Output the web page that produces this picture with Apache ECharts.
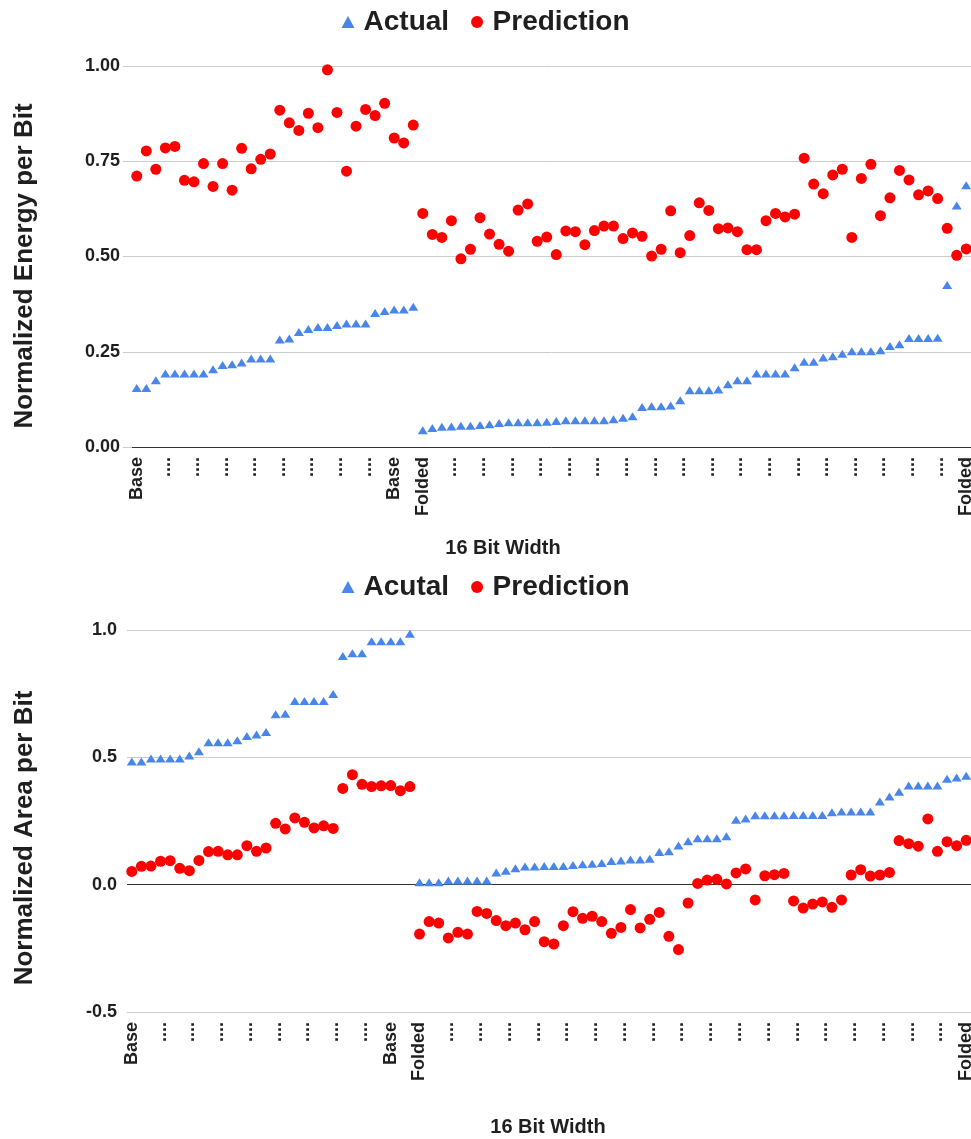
<!DOCTYPE html>
<html>
<head>
<meta charset="utf-8">
<script src="https://cdn.jsdelivr.net/npm/echarts@6/dist/echarts.min.js"></script>
<style>
html,body{margin:0;padding:0;background:#fff;}
#chart{width:971px;height:1139px;}
</style>
</head>
<body>
<div id="chart"></div>
<script>
// ---- categories (tick labels) ----
const baseCats = [
  'Base','....','....','....','....','....','....','....','....','....',
  '....','....','....','....','....','....','....','....','....','....',
  '....','....','....','....','....','....','....','Base','....','....'
];
const foldedCats = [
  'Folded','....','....','....','....','....','....','....','....','....',
  '....','....','....','....','....','....','....','....','....','....',
  '....','....','....','....','....','....','....','....','....','....',
  '....','....','....','....','....','....','....','....','....','....',
  '....','....','....','....','....','....','....','....','....','....',
  '....','....','....','....','....','....','....','Folded'
];
const categories = baseCats.concat(foldedCats);

// ---- top chart: energy ----
const energyActual = [
  0.155,0.155,0.175,0.193,0.193,0.193,0.193,0.193,0.204,0.215,
  0.217,0.222,0.232,0.232,0.232,0.282,0.285,0.302,0.310,0.315,
  0.315,0.320,0.324,0.324,0.324,0.352,0.357,0.361,0.361,0.368,
  0.044,0.050,0.053,0.054,0.056,0.056,0.058,0.060,0.063,0.065,
  0.065,0.065,0.065,0.066,0.068,0.070,0.070,0.070,0.070,0.070,
  0.073,0.077,0.081,0.105,0.107,0.107,0.109,0.123,0.149,0.149,
  0.149,0.151,0.165,0.175,0.175,0.193,0.193,0.193,0.193,0.209,
  0.224,0.224,0.235,0.238,0.245,0.251,0.251,0.251,0.254,0.265,
  0.270,0.286,0.286,0.286,0.287,0.425,0.634,0.687
];
const energyPrediction = [
  0.711,0.777,0.729,0.785,0.789,0.700,0.696,0.744,0.684,0.744,
  0.674,0.784,0.730,0.755,0.769,0.884,0.851,0.831,0.876,0.838,
  0.990,0.878,0.724,0.842,0.886,0.870,0.902,0.811,0.798,0.845,
  0.613,0.558,0.550,0.594,0.494,0.519,0.602,0.559,0.532,0.514,
  0.622,0.638,0.540,0.551,0.505,0.567,0.565,0.531,0.568,0.580,
  0.580,0.547,0.562,0.553,0.501,0.519,0.620,0.510,0.555,0.641,
  0.621,0.573,0.575,0.565,0.518,0.518,0.594,0.613,0.604,0.611,
  0.758,0.690,0.665,0.714,0.729,0.550,0.705,0.742,0.607,0.654,
  0.726,0.701,0.662,0.672,0.652,0.574,0.503,0.520
];

// ---- bottom chart: area ----
const areaActual = [
  0.484,0.484,0.495,0.495,0.495,0.495,0.507,0.524,0.559,0.559,
  0.559,0.567,0.584,0.590,0.599,0.669,0.671,0.721,0.721,0.721,
  0.721,0.749,0.898,0.909,0.909,0.956,0.956,0.956,0.956,0.985,
  0.009,0.009,0.009,0.016,0.016,0.016,0.016,0.016,0.048,0.055,
  0.064,0.071,0.071,0.073,0.073,0.073,0.077,0.080,0.082,0.085,
  0.093,0.095,0.099,0.099,0.102,0.128,0.131,0.154,0.170,0.182,
  0.182,0.182,0.190,0.255,0.260,0.273,0.273,0.273,0.273,0.274,
  0.274,0.274,0.274,0.284,0.287,0.287,0.287,0.287,0.327,0.346,
  0.365,0.389,0.389,0.389,0.389,0.416,0.421,0.428
];
const areaPrediction = [
  0.052,0.072,0.073,0.092,0.094,0.064,0.055,0.095,0.130,0.131,
  0.117,0.117,0.153,0.131,0.144,0.241,0.219,0.262,0.245,0.223,
  0.231,0.221,0.378,0.432,0.394,0.385,0.388,0.389,0.369,0.385,
  -0.194,-0.145,-0.151,-0.209,-0.187,-0.194,-0.105,-0.113,-0.141,-0.161,
  -0.151,-0.177,-0.145,-0.224,-0.233,-0.161,-0.106,-0.132,-0.124,-0.145,
  -0.191,-0.168,-0.098,-0.170,-0.136,-0.109,-0.203,-0.255,-0.072,0.005,
  0.018,0.021,0.003,0.046,0.062,-0.060,0.035,0.039,0.044,-0.064,
  -0.092,-0.076,-0.068,-0.089,-0.060,0.038,0.059,0.034,0.038,0.048,
  0.173,0.161,0.151,0.258,0.131,0.169,0.153,0.174
];

const energyTicks = { min: 0, max: 1, interval: 0.25 };
const areaTicks = { min: -0.5, max: 1.0, interval: 0.5 };

const FONT = "'Liberation Sans', Arial, sans-serif";
const BLUE = '#4a86e8';
const RED = '#ff0000';
const TXT = '#1f1f1f';

const chart = echarts.init(document.getElementById('chart'), null, { renderer: 'canvas' });

function xAxisCfg(gridIndex, lineShow) {
  return {
    type: 'category', gridIndex: gridIndex, data: categories, boundaryGap: true,
    axisTick: { show: false },
    axisLine: { show: lineShow, onZero: false, lineStyle: { color: '#333', width: 1 } },
    splitLine: { show: false },
    axisLabel: {
      interval: 2, rotate: 90, margin: 10, hideOverlap: false,
      fontFamily: FONT, fontWeight: 'bold', fontSize: 18, color: TXT
    }
  };
}

chart.setOption({
  animation: false,
  textStyle: { fontFamily: FONT },
  legend: [
    {
      top: 3, left: 'center', itemWidth: 13, itemHeight: 12, itemGap: 22,
      textStyle: { fontFamily: FONT, fontWeight: 'bold', fontSize: 28, color: TXT, padding: [0, 0, 0, 4] },
      data: [{ name: 'Actual', icon: 'triangle' }, { name: 'Prediction', icon: 'circle' }]
    },
    {
      top: 568, left: 'center', itemWidth: 13, itemHeight: 12, itemGap: 22,
      textStyle: { fontFamily: FONT, fontWeight: 'bold', fontSize: 28, color: TXT, padding: [0, 0, 0, 4] },
      data: [{ name: 'Acutal', icon: 'triangle' }, { name: 'Prediction ', icon: 'circle' }],
      formatter: function (n) { return n.trim(); }
    }
  ],
  grid: [
    { left: 132, right: 0, top: 66, height: 381, outerBoundsMode: 'none', containLabel: false },
    { left: 127, right: 0, top: 630, height: 382, outerBoundsMode: 'none', containLabel: false }
  ],
  xAxis: [xAxisCfg(0, true), xAxisCfg(1, false)],
  yAxis: [
    {
      type: 'value', gridIndex: 0,
      min: energyTicks.min, max: energyTicks.max, interval: energyTicks.interval,
      axisLine: { show: false },
      axisTick: { show: true, length: 9, lineStyle: { color: '#cccccc' } },
      splitLine: { show: true, lineStyle: { color: '#cccccc', width: 1 } },
      axisLabel: {
        margin: 12, fontFamily: FONT, fontWeight: 'bold', fontSize: 18, color: TXT,
        formatter: function (v) { return v.toFixed(2); }
      }
    },
    {
      type: 'value', gridIndex: 1,
      min: areaTicks.min, max: areaTicks.max, interval: areaTicks.interval,
      axisLine: { show: false },
      axisTick: { show: false },
      splitLine: { show: true, lineStyle: { color: ['#cccccc', '#333333', '#cccccc', '#cccccc'], width: 1 } },
      axisLabel: {
        margin: 10, fontFamily: FONT, fontWeight: 'bold', fontSize: 18, color: TXT,
        formatter: function (v) { return v.toFixed(1); }
      }
    }
  ],
  series: [
    {
      name: 'Actual', type: 'scatter', xAxisIndex: 0, yAxisIndex: 0,
      symbol: 'triangle', symbolSize: [10, 8], itemStyle: { color: BLUE, opacity: 1 },
      data: energyActual
    },
    {
      name: 'Prediction', type: 'scatter', xAxisIndex: 0, yAxisIndex: 0,
      symbol: 'circle', symbolSize: 11, itemStyle: { color: RED, opacity: 1 },
      data: energyPrediction
    },
    {
      name: 'Acutal', type: 'scatter', xAxisIndex: 1, yAxisIndex: 1,
      symbol: 'triangle', symbolSize: [10, 8], itemStyle: { color: BLUE, opacity: 1 },
      data: areaActual
    },
    {
      name: 'Prediction ', type: 'scatter', xAxisIndex: 1, yAxisIndex: 1,
      symbol: 'circle', symbolSize: 11, itemStyle: { color: RED, opacity: 1 },
      data: areaPrediction
    }
  ],
  graphic: [
    {
      type: 'text', x: 25, y: 266, rotation: Math.PI / 2,
      style: { text: 'Normalized Energy per Bit', fontFamily: FONT, fontWeight: 'bold', fontSize: 26, fill: TXT, align: 'center', verticalAlign: 'middle' }
    },
    {
      type: 'text', x: 25, y: 838, rotation: Math.PI / 2,
      style: { text: 'Normalized Area per Bit', fontFamily: FONT, fontWeight: 'bold', fontSize: 26, fill: TXT, align: 'center', verticalAlign: 'middle' }
    },
    {
      type: 'text', x: 503, y: 548,
      style: { text: '16 Bit Width', fontFamily: FONT, fontWeight: 'bold', fontSize: 20, fill: TXT, align: 'center', verticalAlign: 'middle' }
    },
    {
      type: 'text', x: 548, y: 1127,
      style: { text: '16 Bit Width', fontFamily: FONT, fontWeight: 'bold', fontSize: 20, fill: TXT, align: 'center', verticalAlign: 'middle' }
    }
  ]
});
</script>
</body>
</html>
